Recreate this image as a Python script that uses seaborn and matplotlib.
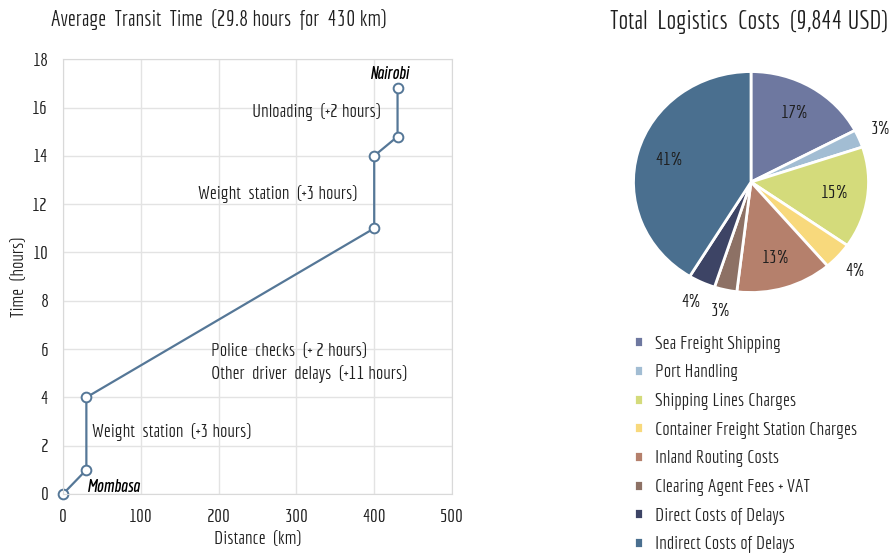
import numpy as np
import matplotlib
matplotlib.use("Agg")
import matplotlib.pyplot as plt
import seaborn as sns

# transit route: distance (km) vs cumulative time (hours)
distance_km = [0, 30, 30, 400, 400, 430, 430]
time_hours = [0, 1, 4, 11, 14, 14.8, 16.8]

# logistics cost breakdown (USD)
cost_labels = ["Sea Freight Shipping", "Port Handling", "Shipping Lines Charges",
               "Container Freight Station Charges", "Inland Routing Costs",
               "Clearing Agent Fees + VAT", "Direct Costs of Delays",
               "Indirect Costs of Delays"]
cost_usd = [1700, 256, 1462, 394, 1300, 305, 364, 4063]
cost_colors = ["#6e78a0", "#a2bdd3", "#d4db7b", "#f8d97c", "#b5806c",
               "#8d7165", "#3d4465", "#4a6f8f"]

sns.set_style("whitegrid")
plt.rcParams["font.family"] = ["Economica", "Khand", "DejaVu Sans"]
txt = "#1f1f1f"

fig = plt.figure(figsize=(8.94, 5.59), dpi=100)

# ---- left: transit time line ----
ax = fig.add_axes([0.0705, 0.1163, 0.4351, 0.7777])
line_col = "#557797"
sns.lineplot(x=distance_km, y=time_hours, ax=ax, estimator=None, sort=False,
             color=line_col, linewidth=1.6, marker="o", markersize=7,
             markerfacecolor="white", markeredgecolor=line_col, markeredgewidth=1.4)
ax.set_xlim(0, 500)
ax.set_ylim(0, 18)
ax.set_xticks(range(0, 501, 100))
ax.set_yticks(range(0, 19, 2))
ax.grid(color="#e3e3e3", linewidth=1)
for s in ax.spines.values():
    s.set_color("#d9d9d9")
ax.tick_params(labelsize=14, colors=txt, pad=7)
ax.set_xlabel("Distance  (km)", fontsize=14, color=txt, labelpad=4)
ax.set_ylabel("Time  (hours)", fontsize=14, color=txt, labelpad=3)
for p in ax.lines:
    p.set_clip_on(False)

ax.text(420, 17.4, "Nairobi", fontsize=13, fontweight="bold", style="italic",
        ha="center", va="center", color="black")
ax.text(31, 0.3, "Mombasa", fontsize=13, fontweight="bold", style="italic",
        ha="left", va="center", color="black")
ax.text(409, 15.8, "Unloading  (+2 hours)", fontsize=14, ha="right", va="center", color=txt)
ax.text(378, 12.4, "Weight  station  (+3 hours)", fontsize=14, ha="right", va="center", color=txt)
ax.text(190, 5.9, "Police  checks  (+ 2 hours)", fontsize=14, ha="left", va="center", color=txt)
ax.text(190, 4.95, "Other  driver  delays  (+11 hours)", fontsize=14, ha="left", va="center", color=txt)
ax.text(37, 2.56, "Weight  station  (+3 hours)", fontsize=14, ha="left", va="center", color=txt)

fig.text(219 / 894, 1 - 20 / 559, "Average  Transit  Time  (29.8 hours  for  430 km)",
         fontsize=16, ha="center", va="center", color=txt)

# ---- right: cost pie ----
pax = fig.add_axes([0.7086, 0.4767, 0.2629, 0.3953])
wedges, _ = pax.pie(cost_usd, colors=cost_colors, startangle=90, counterclock=False,
                    wedgeprops=dict(edgecolor="white", linewidth=2))
pax.set_aspect("auto")
pax.set_xlim(-1, 1)
pax.set_ylim(-1, 1)

total = sum(cost_usd)
for w, v in zip(wedges, cost_usd):
    pct = 100 * v / total
    ang = np.deg2rad((w.theta1 + w.theta2) / 2)
    r = 0.72 if pct > 10 else 1.2
    pax.text(r * np.cos(ang), r * np.sin(ang), f"{pct:.0f}%", fontsize=14,
             ha="center", va="center", color=txt)

fig.text(749 / 894, 1 - 22 / 559, "Total  Logistics  Costs  (9,844 USD)",
         fontsize=18.5, ha="center", va="center", color=txt)

fig.legend(wedges, cost_labels, loc="upper left", bbox_to_anchor=(624 / 894, 1 - 326 / 559),
           frameon=False, fontsize=14, handlelength=0.5, handleheight=0.5,
           handletextpad=0.6, labelspacing=0.6, borderpad=0)

fig.savefig("out.png", dpi=100)
